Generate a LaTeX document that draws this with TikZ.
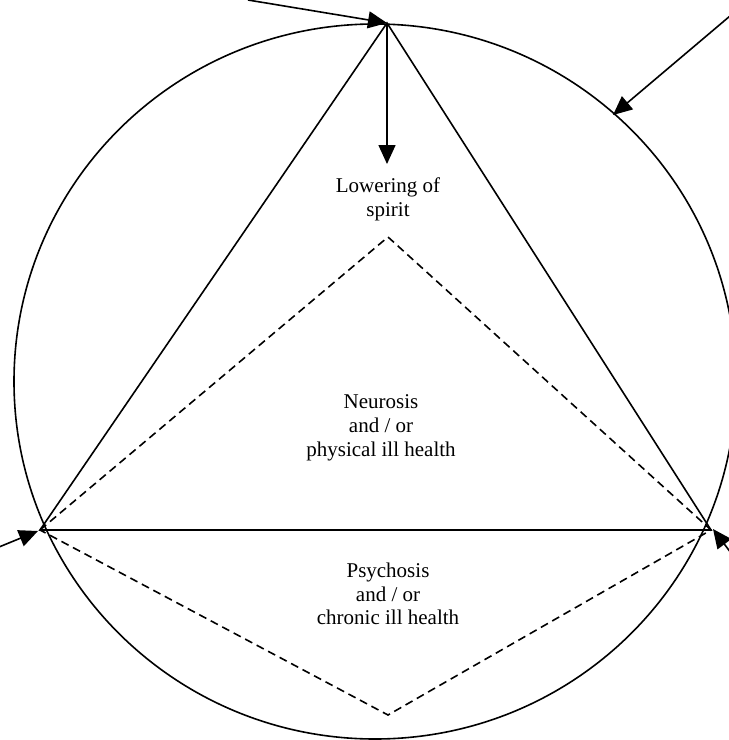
\documentclass[tikz,border=0pt]{standalone}
\usepackage{fontspec}
\setmainfont{Liberation Serif}
\usetikzlibrary{arrows.meta}
\begin{document}
\begin{tikzpicture}[x=1bp,y=-1bp,line width=1.6bp,
  arr/.style={-{Triangle[length=19bp,width=17bp]}},
  dsh/.style={dash pattern=on 8bp off 5bp},
  lbl/.style={align=center,inner sep=0pt,font=\fontsize{21bp}{23.8bp}\selectfont}]
\useasboundingbox (0,0) rectangle (729,740);
\clip (0,0) rectangle (729,740);
% vertices
\coordinate (T) at (387,23);
\coordinate (L) at (40,530);
\coordinate (R) at (711,530);
\coordinate (D) at (388,237);
\coordinate (B) at (388,715);
% circle
\draw (375,381.5) ellipse [x radius=361,y radius=357.5];
% triangle and diamond
\draw (T) -- (L) -- (R) -- cycle;
\draw[dsh] (L) -- (D) -- (R) -- (B) -- cycle;
% arrow ends
\coordinate (s1) at (248,0);
\coordinate (e2) at (387,164);
\coordinate (s3) at (730,16);
\coordinate (e3) at (613,115);
\coordinate (s4) at (-1,547);
\coordinate (s5) at (731,553);
\coordinate (tl) at (38,531);
\coordinate (tr) at (713,529);
\draw[arr] (s1) -- (T);
\draw[arr] (T) -- (e2);
\draw[arr] (s3) -- (e3);
\draw[arr] (s4) -- (tl);
\draw[arr] (s5) -- (tr);
% labels
\node[lbl] (spirit) at (388,199) {Lowering of\\spirit};
\node[lbl] (neur) at (381,428) {Neurosis\\and / or\\physical ill health};
\node[lbl] (psych) at (388,594) {Psychosis\\and / or\\chronic ill health};
\end{tikzpicture}
\end{document}
